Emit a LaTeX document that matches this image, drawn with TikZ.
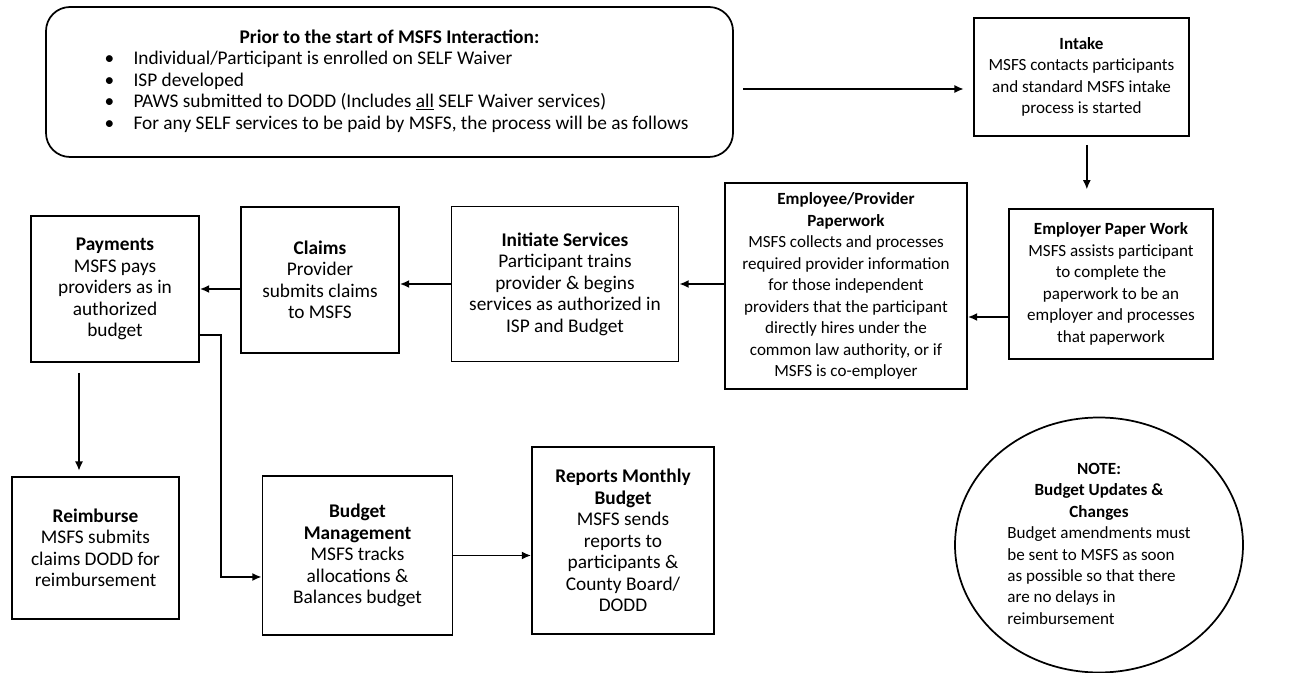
\documentclass[tikz,border=0pt]{standalone}
\usepackage{fontspec}
\setmainfont{Carlito}
\usetikzlibrary{arrows.meta}
\usetikzlibrary{shapes.geometric}

\newcommand{\pkt}{\makebox[21.75pt][l]{\textbullet}}

\begin{document}
\begin{tikzpicture}[x=0.75pt, y=-0.75pt, % 1 Einheit = 1 Pixel, y nach unten
  every node/.style={font=\fontsize{12.8}{16.1}\selectfont},
  gross/.style={font=\fontsize{14.5}{16.1}\selectfont},
  kasten/.style={draw, line width=1.3pt, align=center, inner sep=0pt},
  pfeil/.style={-{Latex[length=7pt,width=6pt]}, line width=1.3pt}]

\useasboundingbox (0,0) rectangle (1311,673);

% Start
\node[kasten, gross, rounded corners=18pt, minimum width=515.25pt, minimum height=112.5pt] (prior) at (389.5,82) {%
  \begin{tabular}{@{\hspace{10.5pt}}l@{}}
  \multicolumn{1}{@{}c@{}}{\textbf{Prior to the start of MSFS Interaction:}}\\
  \pkt Individual/Participant is enrolled on SELF Waiver\\
  \pkt ISP developed\\
  \pkt PAWS submitted to DODD (Includes \underline{all} SELF Waiver services)\\
  \pkt For any SELF services to be paid by MSFS, the process will be as follows
  \end{tabular}};

% obere Reihe
\node[kasten, minimum width=161.25pt, minimum height=88.5pt] (intake) at (1081.5,77)
  {\textbf{Intake}\\MSFS contacts participants\\and standard MSFS intake\\process is started};
\node[kasten, minimum width=153pt, minimum height=112.5pt] (employer) at (1111,284)
  {\textbf{Employer Paper Work}\\MSFS assists participant\\to complete the\\paperwork to be an\\employer and processes\\that paperwork};
\node[kasten, minimum width=181.5pt, minimum height=154.5pt] (employee) at (846,286)
  {\textbf{Employee/Provider}\\\textbf{Paperwork}\\MSFS collects and processes\\required provider information\\for those independent\\providers that the participant\\directly hires under the\\common law authority, or if\\MSFS is co-employer};
\node[kasten, gross, minimum width=170.25pt, minimum height=116.25pt] (initiate) at (565,284)
  {\textbf{Initiate Services}\\Participant trains\\provider \& begins\\services as authorized in\\ISP and Budget};
\node[kasten, gross, minimum width=118.5pt, minimum height=109.5pt] (claims) at (320,280)
  {\textbf{Claims}\\Provider\\submits claims\\to MSFS};
\node[kasten, gross, minimum width=126pt, minimum height=109.5pt] (payments) at (115,289)
  {\textbf{Payments}\\MSFS pays\\providers as in\\authorized\\budget};

% untere Reihe
\node[kasten, gross, minimum width=125.6pt, minimum height=106.5pt] (reimburse) at (95.5,548)
  {\textbf{Reimburse}\\MSFS submits\\claims DODD for\\reimbursement};
\node[kasten, gross, minimum width=142.5pt, minimum height=119.25pt] (budget) at (357.5,555.5)
  {\textbf{Budget}\\\textbf{Management}\\MSFS tracks\\allocations \&\\Balances budget};
\node[kasten, gross, minimum width=136.5pt, minimum height=140.25pt] (reports) at (623,540.5)
  {\textbf{Reports Monthly}\\\textbf{Budget}\\MSFS sends\\reports to\\participants \&\\County Board/\\DODD};

% Hinweis
\node[kasten, ellipse, minimum width=216pt, minimum height=191.25pt] (note) at (1099,545) {%
  \begin{tabular}{@{}l@{}}
  \multicolumn{1}{@{}c@{}}{\textbf{NOTE:}}\\
  \multicolumn{1}{@{}c@{}}{\textbf{Budget Updates \&}}\\
  \multicolumn{1}{@{}c@{}}{\textbf{Changes}}\\
  Budget amendments must\\
  be sent to MSFS as soon\\
  as possible so that there\\
  are no delays in\\
  reimbursement
  \end{tabular}};

% Pfeile
\draw[pfeil, shorten <=7pt, shorten >=7pt] ([yshift=-5.25pt]prior.east) -- ([yshift=-5.25pt]prior.east -| intake.west);
\draw[pfeil, shorten <=6pt, shorten >=14pt] ([xshift=4pt]intake.south) -- ([xshift=4pt]intake.south |- employer.north);
\draw[pfeil] ([yshift=-24.75pt]employer.west) -- ([yshift=-24.75pt]employer.west -| employee.east);
\draw[pfeil] (initiate.east -| employee.west) -- (initiate.east);
\draw[pfeil] (initiate.west) -- (initiate.west -| claims.east);
\draw[pfeil] (payments.east -| claims.west) -- (payments.east);
\draw[pfeil, shorten <=7.5pt, shorten >=4pt] ([xshift=-27pt]payments.south) -- ([xshift=-27pt]payments.south |- reimburse.north);
\draw[pfeil] ([yshift=-34.5pt]payments.east) -- ++(21,0) |- ([yshift=-16.1pt]budget.west);
\draw[pfeil] (budget.east) -- (budget.east -| reports.west);

\end{tikzpicture}
\end{document}
